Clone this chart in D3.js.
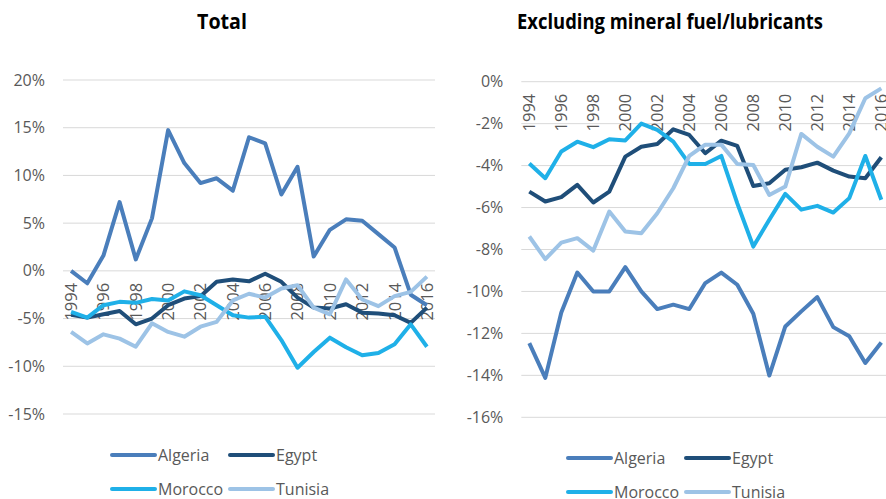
<!doctype html>
<html>
<head>
<meta charset="UTF-8">
<title>Trade balance</title>
<script src="https://cdn.jsdelivr.net/npm/d3@7"></script>
<style>
  body { margin: 0; background: #fff; }
  text { font-family: "Open Sans", sans-serif; }
</style>
</head>
<body>
<script>
var years = d3.range(1994, 2017);
var countries = ["Algeria", "Egypt", "Morocco", "Tunisia"];
var colors = ["#4a7ebb", "#1f4e79", "#1fb0e8", "#9dc3e6"];

// Total (%)
var totalAlgeria = [0.0, -1.3, 1.6, 7.2, 1.2, 5.5, 14.75, 11.3, 9.2, 9.7, 8.4, 14.0, 13.35, 8.0, 10.9, 1.5, 4.3, 5.4, 5.25, 3.85, 2.45, -2.5, -3.6];
var totalEgypt = [-4.6, -4.9, -4.55, -4.2, -5.6, -5.0, -3.6, -2.9, -2.65, -1.15, -0.9, -1.1, -0.3, -1.15, -2.8, -3.85, -3.95, -3.5, -4.4, -4.47, -4.65, -5.45, -3.85];
var totalMorocco = [-4.3, -4.9, -3.6, -3.25, -3.35, -2.95, -3.1, -2.15, -2.55, -3.6, -4.65, -4.9, -4.8, -7.25, -10.15, -8.5, -7.0, -8.0, -8.85, -8.6, -7.7, -5.6, -7.95];
var totalTunisia = [-6.4, -7.6, -6.65, -7.1, -7.95, -5.5, -6.4, -6.9, -5.85, -5.35, -3.1, -2.4, -2.8, -1.85, -1.5, -3.85, -4.55, -0.9, -3.0, -3.7, -2.65, -2.2, -0.6];

// Excluding mineral fuel/lubricants (%)
var exclAlgeria = [-12.46, -14.12, -11.0, -9.1, -10.0, -10.0, -8.84, -10.0, -10.84, -10.63, -10.84, -9.6, -9.1, -9.68, -11.06, -14.01, -11.67, -10.95, -10.27, -11.7, -12.14, -13.41, -12.43];
var exclEgypt = [-5.24, -5.71, -5.5, -4.92, -5.76, -5.24, -3.57, -3.1, -2.97, -2.27, -2.54, -3.41, -2.81, -3.06, -4.97, -4.84, -4.2, -4.08, -3.86, -4.24, -4.52, -4.6, -3.6];
var exclMorocco = [-3.9, -4.6, -3.33, -2.86, -3.12, -2.74, -2.8, -2.0, -2.3, -2.86, -3.92, -3.92, -3.54, -5.8, -7.86, -6.58, -5.35, -6.1, -5.92, -6.24, -5.55, -3.54, -5.63];
var exclTunisia = [-7.38, -8.46, -7.67, -7.46, -8.05, -6.19, -7.14, -7.22, -6.27, -5.08, -3.54, -3.0, -3.0, -3.92, -3.97, -5.4, -5.0, -2.49, -3.1, -3.57, -2.46, -0.79, -0.32];

var totalTicks = [20, 15, 10, 5, 0, -5, -10, -15];
var exclTicks = [0, -2, -4, -6, -8, -10, -12, -14, -16];

var svg = d3.select("body").append("svg")
  .attr("width", 886)
  .attr("height", 499);

function panel(opt) {
  var x = d3.scalePoint().domain(years).range(opt.xr).padding(0.5);
  var y = d3.scaleLinear().domain(opt.yd).range(opt.yr);
  var g = svg.append("g");

  g.append("text")
    .attr("x", opt.titleX).attr("y", 29)
    .attr("text-anchor", "middle")
    .attr("font-weight", "bold")
    .attr("font-size", 21)
    .attr("textLength", opt.titleW)
    .attr("lengthAdjust", "spacingAndGlyphs")
    .attr("fill", "#000")
    .text(opt.title);

  g.selectAll(".grid").data(opt.ticks).enter().append("line")
    .attr("x1", opt.xr[0]).attr("x2", opt.xr[1])
    .attr("y1", function(d){ return y(d); })
    .attr("y2", function(d){ return y(d); })
    .attr("stroke", "#d9d9d9").attr("stroke-width", 1);

  g.selectAll(".ylab").data(opt.ticks).enter().append("text")
    .attr("x", opt.xr[0] - 18)
    .attr("y", function(d){ return y(d); })
    .attr("dy", "0.35em")
    .attr("text-anchor", "end")
    .attr("font-size", 16)
    .attr("fill", "#595959")
    .text(function(d){ return d + "%"; });

  g.selectAll(".xlab").data(years.filter(function(d){ return d % 2 === 0; })).enter().append("text")
    .attr("transform", function(d){ return "translate(" + x(d) + "," + (y(0) + 12) + ") rotate(-90)"; })
    .attr("dy", "0.36em")
    .attr("text-anchor", "end")
    .attr("font-size", 16.5)
    .attr("fill", "#595959")
    .text(function(d){ return d; });

  var line = d3.line()
    .x(function(d, i){ return x(years[i]); })
    .y(function(d){ return y(d); });

  g.selectAll(".series").data(opt.series).enter().append("path")
    .attr("d", function(d){ return line(d); })
    .attr("fill", "none")
    .attr("stroke", function(d, i){ return colors[i]; })
    .attr("stroke-width", 4)
    .attr("stroke-linejoin", "round");

  var lg = g.selectAll(".legend").data(countries).enter().append("g")
    .attr("transform", function(d, i){
      return "translate(" + (opt.legX + (i % 2) * 118) + "," + (opt.legY + Math.floor(i / 2) * 34) + ")";
    });
  lg.append("line")
    .attr("x1", 0).attr("x2", 43)
    .attr("stroke", function(d, i){ return colors[i]; })
    .attr("stroke-width", 4)
    .attr("stroke-linecap", "round");
  lg.append("text")
    .attr("x", 46).attr("dy", "0.35em")
    .attr("font-size", 16)
    .attr("fill", "#595959")
    .text(function(d){ return d; });
}

panel({
  title: "Total", titleX: 222, titleW: 50,
  xr: [63, 435], yd: [-15, 20], yr: [414, 80],
  ticks: totalTicks,
  series: [totalAlgeria, totalEgypt, totalMorocco, totalTunisia],
  legX: 112, legY: 455
});

panel({
  title: "Excluding mineral fuel/lubricants", titleX: 670, titleW: 306,
  xr: [521.3, 889.3], yd: [-16, 0], yr: [417.3, 81.7],
  ticks: exclTicks,
  series: [exclAlgeria, exclEgypt, exclMorocco, exclTunisia],
  legX: 568, legY: 458
});
</script>
</body>
</html>
